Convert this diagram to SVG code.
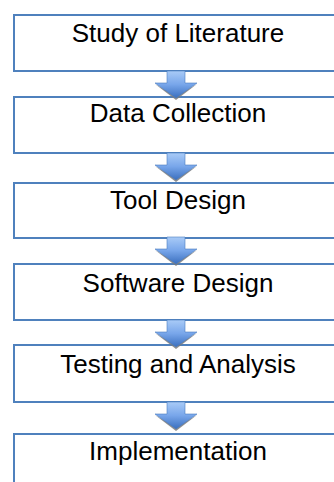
<svg xmlns="http://www.w3.org/2000/svg" width="334" height="482" viewBox="0 0 334 482">
<defs>
<linearGradient id="ag" x1="0" y1="0" x2="0" y2="1">
<stop offset="0" stop-color="#a9cbf7"/>
<stop offset="0.5" stop-color="#78a6ea"/>
<stop offset="1" stop-color="#3a6fbf"/>
</linearGradient>
<path id="arr" d="M167,0 H185 V12 H197 L176,27 L155,12 H167 Z"/>
<path id="sh" d="M155,13 L176,29 L197,13 L176,25 Z"/>
</defs>
<style>
.box{fill:#fff;stroke:#4f81bd;stroke-width:2}
.lbl{font-family:"Liberation Sans",Arial,sans-serif;font-size:26px;fill:#000;text-anchor:middle}
.a{fill:url(#ag);stroke:#4a7cc0;stroke-width:0.6}
.s{fill:#7a7a7a;opacity:0.85}
</style>
<g id="n1"><rect class="box" x="14" y="15" width="340" height="56"/><text class="lbl" x="178" y="42">Study of Literature</text></g>
<g id="n2"><rect class="box" x="14" y="97" width="340" height="56"/><text class="lbl" x="178" y="122">Data Collection</text></g>
<g id="n3"><rect class="box" x="14" y="183" width="340" height="55"/><text class="lbl" x="178" y="209">Tool Design</text></g>
<g id="n4"><rect class="box" x="14" y="264" width="340" height="56"/><text class="lbl" x="178" y="292">Software Design</text></g>
<g id="n5"><rect class="box" x="14" y="345" width="340" height="57"/><text class="lbl" x="178" y="373">Testing and Analysis</text></g>
<g id="n6"><rect class="box" x="14" y="434" width="340" height="60"/><text class="lbl" x="178" y="460">Implementation</text></g>
<g id="connectors">
<g transform="translate(0,71)"><use href="#sh" class="s"/><use href="#arr" class="a"/></g>
<g transform="translate(0,153)"><use href="#sh" class="s"/><use href="#arr" class="a"/></g>
<g transform="translate(0,237)"><use href="#sh" class="s"/><use href="#arr" class="a"/></g>
<g transform="translate(0,320)"><use href="#sh" class="s"/><use href="#arr" class="a"/></g>
<g transform="translate(0,402)"><use href="#sh" class="s"/><use href="#arr" class="a"/></g>
</g>
</svg>
